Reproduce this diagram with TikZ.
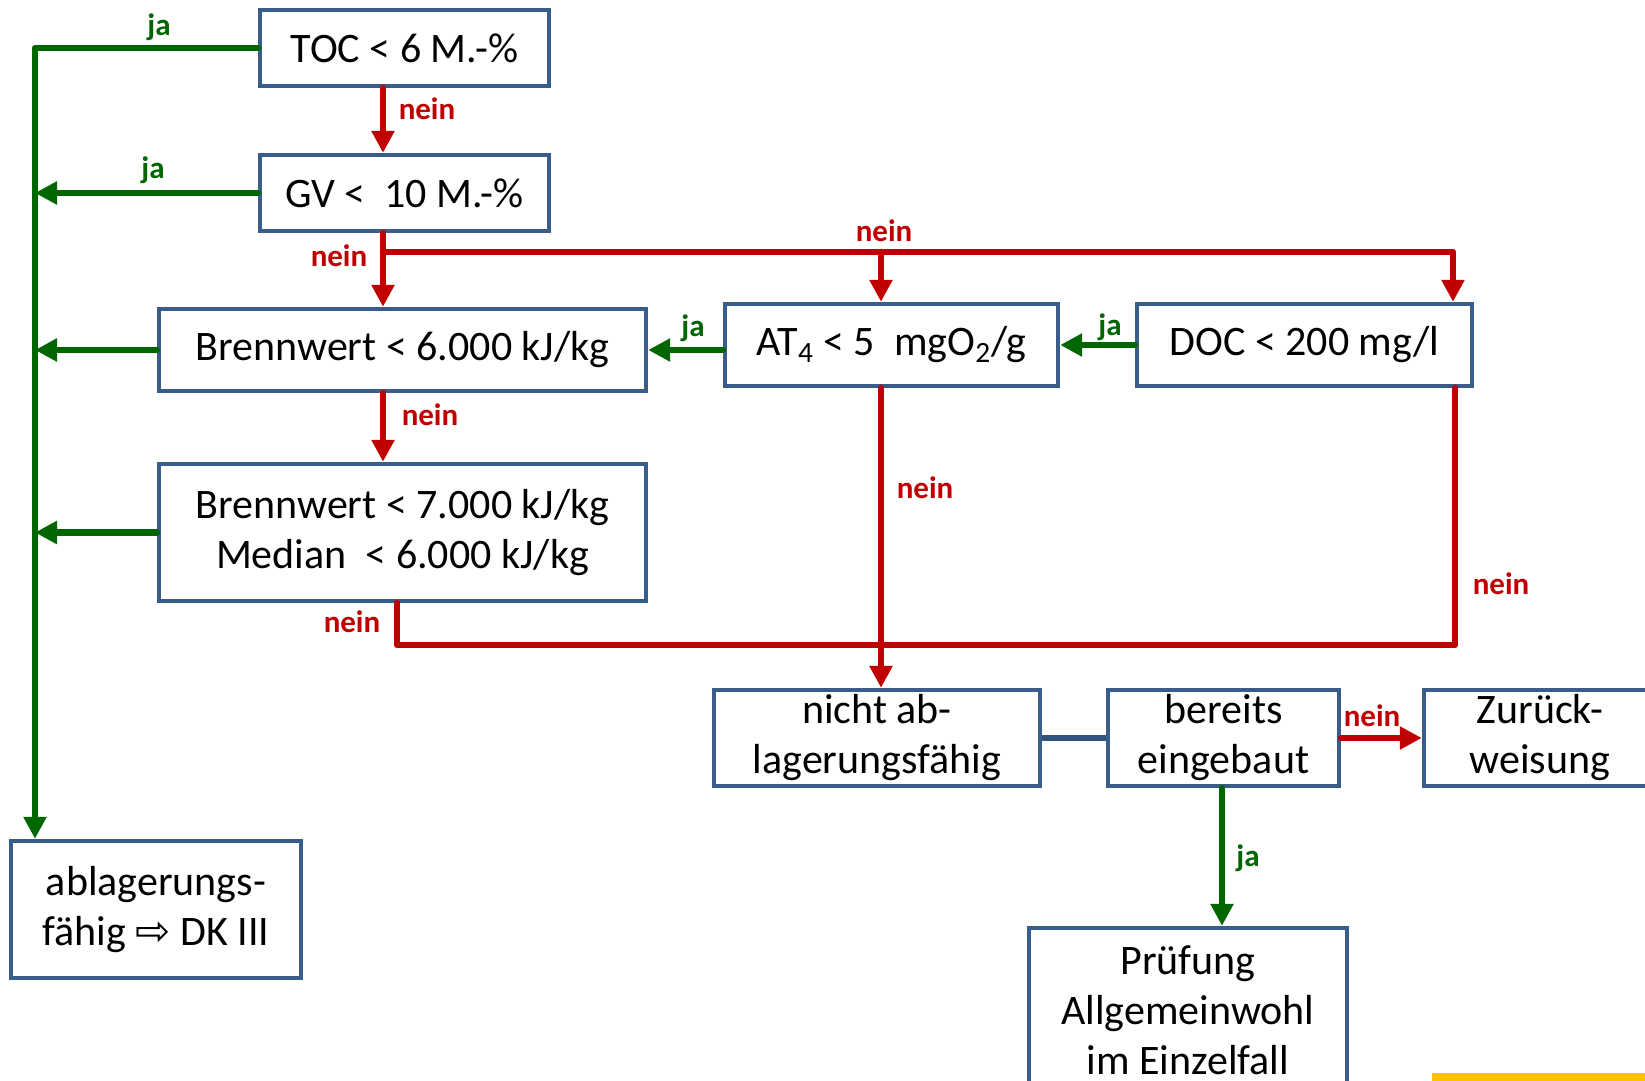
\documentclass[tikz,border=0pt]{standalone}
\usepackage{fontspec}
\setmainfont{Carlito}
\newfontfamily\arrowfont{DejaVu Sans}
\usetikzlibrary{arrows.meta}
\definecolor{boxblue}{RGB}{56,93,138}
\definecolor{jagreen}{RGB}{0,102,0}
\definecolor{neinred}{RGB}{192,0,0}
\definecolor{baryellow}{RGB}{255,192,0}

\begin{document}
\begin{tikzpicture}[x=0.5pt,y=-0.5pt,
  box/.style={draw=boxblue,line width=2.2pt,fill=white,align=center,inner sep=0pt,
    font=\fontsize{21}{25}\selectfont},
  jaline/.style={draw=jagreen,line width=3.3pt,line cap=round,line join=round},
  neinline/.style={draw=neinred,line width=3.3pt,line cap=round,line join=round},
  jaarrow/.style={jaline,-{Triangle[width=11pt,length=11pt]}},
  neinarrow/.style={neinline,-{Triangle[width=11pt,length=11pt]}},
  jatext/.style={text=jagreen,inner sep=0pt,font=\fontsize{15.5}{18}\selectfont\bfseries},
  neintext/.style={text=neinred,inner sep=0pt,font=\fontsize{15.5}{18}\selectfont\bfseries}]
\useasboundingbox (0,0) rectangle (1645,1081);

\node[box,minimum width=144.5pt,minimum height=38pt] (toc) at (404.5,48) {TOC < 6 M.-\%};
\node[box,minimum width=144.5pt,minimum height=38pt] (gv) at (404.5,193) {GV <~~10 M.-\%};
\node[box,minimum width=243.5pt,minimum height=41pt] (bw6) at (402.5,350) {Brennwert < 6.000 kJ/kg};
\node[box,minimum width=166.5pt,minimum height=41pt] (at4) at (891.5,345) {AT\textsubscript{4} < 5~~mgO\textsubscript{2}/g};
\node[box,minimum width=167.5pt,minimum height=41pt] (doc) at (1304.5,345) {DOC < 200 mg/l};
\node[box,minimum width=243.5pt,minimum height=68.5pt] (bw7) at (402.5,532.5) {Brennwert < 7.000 kJ/kg\\Median~~< 6.000 kJ/kg};
\node[box,minimum width=163pt,minimum height=48pt] (nicht) at (877,738) {nicht ab-\\lagerungsfähig};
\node[box,minimum width=115.5pt,minimum height=48pt] (bereits) at (1223.5,738) {bereits\\eingebaut};
\node[box,minimum width=116pt,minimum height=48pt] (zurueck) at (1540,738) {Zurück-\\weisung};
\node[box,minimum width=145pt,minimum height=68.5pt] (ablag) at (156,909.5) {ablagerungs-\\fähig {\arrowfont ⇨} DK III};
\node[box,minimum width=159pt,minimum height=82pt] (pruef) at (1188,1010) {Prüfung\\Allgemeinwohl\\im Einzelfall};

\coordinate (gcorner) at (35,48);
\coordinate (redtop) at (383,252);
\coordinate (redmid) at (881,252);
\coordinate (redright) at (1453,252);
\coordinate (botleft) at (397,645);
\coordinate (botright) at (1455,645);

\draw[jaarrow] (toc.west) -- (gcorner) -- (gcorner |- ablag.north);
\draw[jaarrow] (gv.west) -- (gcorner |- gv.west);
\draw[jaarrow] (bw6.west) -- (gcorner |- bw6.west);
\draw[jaarrow] (bw7.west) -- (gcorner |- bw7.west);
\draw[jaarrow] (at4.west |- bw6.east) -- (bw6.east);
\draw[jaarrow] (doc.west) -- (at4.east);
\draw[jaarrow] (bereits.south -| 1222,0) -- (pruef.north -| 1222,0);

\draw[neinarrow] (redtop |- toc.south) -- (redtop |- gv.north);
\draw[neinarrow] (redtop |- gv.south) -- (redtop |- bw6.north);
\draw[neinarrow] (redtop) -- (redright) -- (redright |- doc.north);
\draw[neinarrow] (redmid) -- (redmid |- at4.north);
\draw[neinarrow] (redtop |- bw6.south) -- (redtop |- bw7.north);
\draw[neinarrow] (redmid |- at4.south) -- (redmid |- nicht.north);
\draw[neinline] (botright |- doc.south) -- (botright) -- (botleft) -- (botleft |- bw7.south);
\draw[neinarrow] (bereits.east) -- (zurueck.west);
\draw[draw=boxblue!90!black,line width=2.6pt] (nicht.east) -- (bereits.west);

\node[jatext] (ja1) at (159,27) {ja};
\node[jatext] (ja2) at (153,170) {ja};
\node[jatext] (ja3) at (693,328) {ja};
\node[jatext] (ja4) at (1110,327) {ja};
\node[jatext] (ja5) at (1248,858) {ja};
\node[neintext] (nein1) at (427,109) {nein};
\node[neintext] (nein2) at (339,256) {nein};
\node[neintext] (nein3) at (884,231) {nein};
\node[neintext] (nein4) at (430,415) {nein};
\node[neintext] (nein5) at (925,488) {nein};
\node[neintext] (nein6) at (1501,584) {nein};
\node[neintext] (nein7) at (352,622) {nein};
\node[neintext] (nein8) at (1372,716) {nein};

\fill[baryellow] (1432,1073) rectangle (1645,1085);
\end{tikzpicture}
\end{document}
